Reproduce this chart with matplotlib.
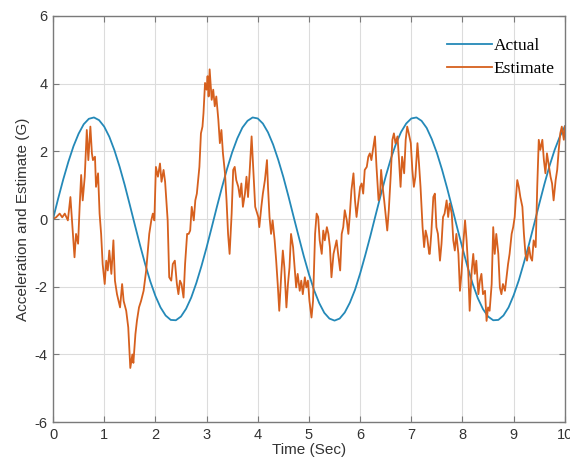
import matplotlib
matplotlib.use("Agg")
import matplotlib.pyplot as plt

plt.rcParams['axes.unicode_minus'] = False

# Actual acceleration (G), read every 0.1 s
act_t = [i / 10 for i in range(101)]
act_v = [0.00, 0.60, 1.17, 1.69, 2.15, 2.52, 2.80, 2.96, 3.00, 2.92,
         2.73, 2.43, 2.03, 1.55, 1.01, 0.42, -0.18, -0.77, -1.33, -1.84,
         -2.27, -2.61, -2.85, -2.98, -2.99, -2.88, -2.65, -2.32, -1.89, -1.39,
         -0.84, -0.25, 0.35, 0.93, 1.48, 1.97, 2.38, 2.70, 2.90, 3.00,
         2.97, 2.82, 2.56, 2.20, 1.75, 1.24, 0.67, 0.07, -0.52, -1.10,
         -1.63, -2.10, -2.48, -2.77, -2.94, -3.00, -2.94, -2.76, -2.47, -2.09,
         -1.61, -1.07, -0.50, 0.10, 0.69, 1.26, 1.78, 2.22, 2.57, 2.82,
         2.97, 3.00, 2.90, 2.69, 2.36, 1.95, 1.46, 0.91, 0.32, -0.28,
         -0.86, -1.42, -1.92, -2.34, -2.66, -2.88, -2.99, -2.98, -2.85, -2.61,
         -2.25, -1.81, -1.29, -0.74, -0.15, 0.45, 1.03, 1.57, 2.04, 2.43,
         2.74]

# Estimate (G)
est_t = [0.00, 0.06, 0.13, 0.18, 0.23, 0.29, 0.34, 0.42, 0.45, 0.49, 0.52, 0.55,
         0.58, 0.62, 0.66, 0.69, 0.73, 0.76, 0.78, 0.82, 0.84, 0.88,
         0.91, 0.94, 0.97, 1.01, 1.04, 1.07, 1.10, 1.14, 1.18, 1.21,
         1.25, 1.28, 1.31, 1.35, 1.38, 1.43, 1.47, 1.51, 1.55, 1.57,
         1.61, 1.64, 1.68, 1.72, 1.77, 1.82,
         1.88, 1.92, 1.95, 1.98, 2.01, 2.05, 2.09, 2.12, 2.16, 2.19,
         2.24, 2.27, 2.31, 2.34, 2.38, 2.42, 2.45, 2.48, 2.51, 2.55,
         2.58, 2.62, 2.65, 2.68, 2.71, 2.75, 2.78, 2.81, 2.86, 2.89,
         2.92, 2.94, 2.97, 3.00, 3.02, 3.04, 3.06, 3.10, 3.13, 3.16,
         3.19, 3.23, 3.26, 3.29, 3.32, 3.36, 3.39, 3.42, 3.45, 3.49,
         3.52, 3.55, 3.58, 3.62, 3.65, 3.68, 3.71, 3.75, 3.78, 3.81,
         3.84, 3.88, 3.91, 3.95, 3.99,
         4.01, 4.03, 4.07, 4.10, 4.14, 4.18, 4.20, 4.23, 4.26, 4.29, 4.33,
         4.36, 4.39, 4.42, 4.46, 4.49, 4.52, 4.56, 4.59, 4.62, 4.65,
         4.69, 4.72, 4.75, 4.78, 4.82, 4.85, 4.88, 4.92, 4.95, 4.98,
         5.01, 5.05, 5.08,
         5.12, 5.15, 5.18, 5.21, 5.25, 5.28, 5.31, 5.35, 5.38, 5.41,
         5.44, 5.48, 5.51, 5.54, 5.57, 5.61, 5.64, 5.67, 5.70, 5.74,
         5.77, 5.80, 5.83, 5.87, 5.90, 5.93, 5.96, 6.00, 6.03, 6.06,
         6.09, 6.13, 6.16, 6.19, 6.22, 6.26, 6.29, 6.32, 6.36, 6.39,
         6.41, 6.44, 6.47, 6.51, 6.53, 6.56, 6.60, 6.63, 6.66, 6.69,
         6.73, 6.76, 6.79, 6.82, 6.86, 6.89, 6.92, 6.95, 6.99, 7.02,
         7.05, 7.08, 7.12, 7.15, 7.18, 7.22, 7.25, 7.28, 7.31, 7.35,
         7.36, 7.39, 7.43, 7.46, 7.49, 7.52, 7.56, 7.59, 7.62, 7.65,
         7.69, 7.72, 7.75, 7.79, 7.82, 7.85, 7.88, 7.92, 7.95, 7.98,
         8.01, 8.05, 8.08, 8.11, 8.14, 8.18, 8.21, 8.24, 8.27, 8.31,
         8.34, 8.37, 8.40, 8.44, 8.47, 8.50, 8.53, 8.57, 8.60, 8.63,
         8.66, 8.70, 8.73, 8.76, 8.79, 8.83, 8.86, 8.89, 8.92, 8.96,
         8.99, 9.02, 9.04, 9.07, 9.10, 9.13, 9.17, 9.20, 9.23, 9.26,
         9.30, 9.33, 9.36, 9.39, 9.43, 9.46, 9.49, 9.52, 9.56, 9.59,
         9.62, 9.65, 9.69, 9.72, 9.75, 9.78, 9.82, 9.85, 9.88, 9.91,
         9.94, 9.98, 10.00]
est_v = [0.00, 0.05, 0.16, 0.05, 0.16, -0.04, 0.65, -1.13, -0.44, -0.73, 0.36, 1.30,
         0.55, 1.25, 2.63, 1.74, 2.73, 1.94, 1.74, 1.84, 0.95, 1.35,
         0.16, -0.44, -1.33, -1.92, -1.23, -1.52, -0.93, -1.62, -0.63, -1.82,
         -2.22, -2.42, -2.61, -1.92, -2.42, -2.71, -3.20, -4.40, -4.00, -4.25,
         -3.40, -3.00, -2.61, -2.42, -2.12, -1.52,
         -0.44, -0.04, 0.16, -0.04, 1.54, 1.25, 1.64, 1.10, 1.45, 1.10,
         -0.04, -1.72, -1.82, -1.33, -1.23, -1.92, -2.22, -1.82, -1.92, -2.32,
         -1.33, -0.44, -0.44, -0.34, 0.36, -0.04, 0.55, 0.75, 1.54, 2.53,
         2.73, 3.13, 4.02, 3.82, 4.22, 3.62, 4.42, 3.52, 3.82, 3.33,
         3.62, 2.93, 2.24, 2.63, 1.94, 1.35, 0.55, -0.44, -1.03, 0.16,
         1.45, 1.54, 1.15, 0.95, 0.65, 1.05, 0.36, 0.75, 1.25, 0.65,
         1.35, 2.44, 1.54, 0.36, 0.16,
         0.06, -0.24, 0.36, 0.75, 1.15, 1.74, 0.95, 0.06, -0.44, -0.04, -0.63,
         -1.23, -1.92, -2.71, -1.62, -0.93, -1.43, -2.61, -1.92, -1.43, -0.44,
         -0.83, -1.43, -2.02, -1.62, -2.12, -1.82, -2.22, -1.72, -2.02, -1.82,
         -2.42, -2.91, -2.42,
         -0.44, 0.16, 0.06, -0.63, -1.03, -0.34, -0.63, -0.24, -0.44, -0.83,
         -1.72, -1.03, -0.83, -0.63, -1.03, -1.52, -0.44, -0.24, 0.26, -0.04,
         -0.44, 0.16, 0.85, 1.35, 0.55, 0.06, 0.46, 0.95, 1.05, 0.75,
         1.45, 1.54, 1.84, 1.94, 1.74, 2.14, 2.44, 1.54, 0.55, 0.75,
         1.45, 0.95, 0.55, -0.04, -0.34, 0.26, 1.35, 2.34, 2.53, 2.24,
         2.44, 1.74, 0.95, 1.84, 1.35, 2.34, 2.73, 2.53, 2.24, 1.45,
         0.95, 1.25, 2.24, 1.64, 0.95, -0.24, -0.83, -0.34, -0.54, -1.03,
         -1.03, -0.44, 0.65, 0.75, -0.24, -0.44, -1.23, -0.73, 0.06, 0.16,
         0.55, 0.06, 0.46, 0.16, -0.63, -0.93, -0.44, -1.03, -2.12, -1.62,
         -0.83, -0.04, -0.63, -1.43, -2.71, -1.52, -1.03, -1.62, -1.23, -2.22,
         -1.82, -1.62, -2.22, -2.12, -3.01, -2.61, -2.71, -1.92, -0.24, -1.03,
         -0.44, -1.03, -2.02, -2.22, -1.92, -2.12, -1.72, -1.33, -1.03, -0.44,
         -0.24, 0.06, 0.55, 1.15, 0.95, 0.65, 0.36, -0.44, -1.03, -1.23,
         -0.83, -1.13, -1.23, -0.63, -0.83, 0.95, 2.34, 2.04, 2.34, 1.74,
         1.35, 1.94, 1.54, 1.25, 1.05, 0.55, 1.15, 1.45, 2.04, 2.53,
         2.73, 2.34, 2.73]

blue = '#2489b8'
orange = '#d6601e'

fig = plt.figure(figsize=(5.7, 4.67), dpi=100)
ax = fig.add_axes([0.093, 0.096, 0.898, 0.870])

ax.plot(act_t, act_v, color=blue, lw=1.3, label='Actual')
ax.plot(est_t, est_v, color=orange, lw=1.3, label='Estimate')

ax.set_xlim(0, 10)
ax.set_ylim(-6, 6)
ax.set_xticks(range(0, 11))
ax.set_yticks(range(-6, 7, 2))
ax.grid(True, color='#dcdcdc', lw=0.8)
ax.set_axisbelow(True)
for s in ax.spines.values():
    s.set_color('#7a7a7a')
    s.set_linewidth(1.0)
ax.tick_params(direction='in', top=True, right=True, length=4, width=0.8,
               color='#7a7a7a', labelsize=10.5, labelcolor='#333333', pad=4)
for lab in ax.get_xticklabels() + ax.get_yticklabels():
    lab.set_family('Liberation Sans')

ax.set_xlabel('Time (Sec)', fontsize=11, family='Liberation Sans', color='#333333', labelpad=1)
ax.set_ylabel('Acceleration and Estimate (G)', fontsize=11, family='Liberation Sans',
              color='#333333', labelpad=3)

ax.legend(loc='upper right', bbox_to_anchor=(0.98, 0.945), frameon=False,
          prop={'family': 'Liberation Serif', 'size': 12.5},
          handlelength=2.6, handletextpad=0.1, labelspacing=0.4,
          borderaxespad=0, borderpad=0)

fig.savefig('out.png', dpi=100)
